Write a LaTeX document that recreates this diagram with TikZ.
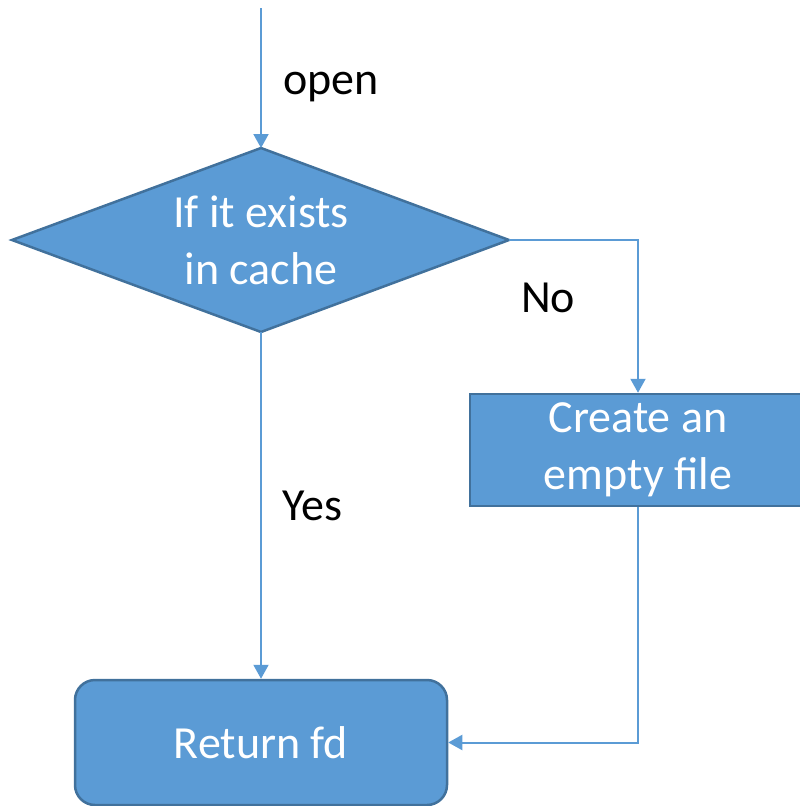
\documentclass[tikz,border=0pt]{standalone}
\usepackage{fontspec}
\setmainfont{Carlito}
\usetikzlibrary{arrows.meta}
\definecolor{boxfill}{HTML}{5B9BD5}
\definecolor{boxedge}{HTML}{41719C}
\definecolor{linkcol}{HTML}{5B9BD5}
\begin{document}
\begin{tikzpicture}[x=1pt,y=-1pt,
  every node/.style={font=\fontsize{46}{57}\selectfont},
  shapefill/.style={fill=boxfill,draw=boxedge,line width=2.5pt,line join=miter},
  shapebox/.style={shapefill,text=white,align=center,inner sep=0pt},
  link/.style={draw=linkcol,line width=2pt,-{Triangle[length=14pt,width=15pt]}},
  tag/.style={text=black,anchor=base west,inner sep=0pt}]
\useasboundingbox (0,0) rectangle (800,806);

% decision diamond
\coordinate (dtop) at (261,148);
\coordinate (dright) at (509,240);
\coordinate (dbot) at (261,332);
\coordinate (dleft) at (12,240);
\path[shapefill] (dtop) -- (dright) -- (dbot) -- (dleft) -- cycle;
\node[text=white,align=center,inner sep=0pt] (test) at (261,240) {If it exists\\in cache};

% process boxes
\node[shapebox,minimum width=336pt,minimum height=112pt] (create) at (638,450) {Create an\\empty file};
\node[shapebox,rounded corners=20pt,minimum width=372pt,minimum height=125pt] (ret) at (261,742.5) {Return fd};

% connectors
\coordinate (start) at (261,8);
\draw[link] (start) -- (dtop);
\draw[link] (dright) -| (create.north);
\draw[link] (dbot) -- (ret.north);
\draw[link] (create.south) |- (ret.east);

% labels
\node[tag] (lopen) at (283,94) {open};
\node[tag] (lno) at (521,312) {No};
\node[tag] (lyes) at (282,520) {Yes};
\end{tikzpicture}
\end{document}
